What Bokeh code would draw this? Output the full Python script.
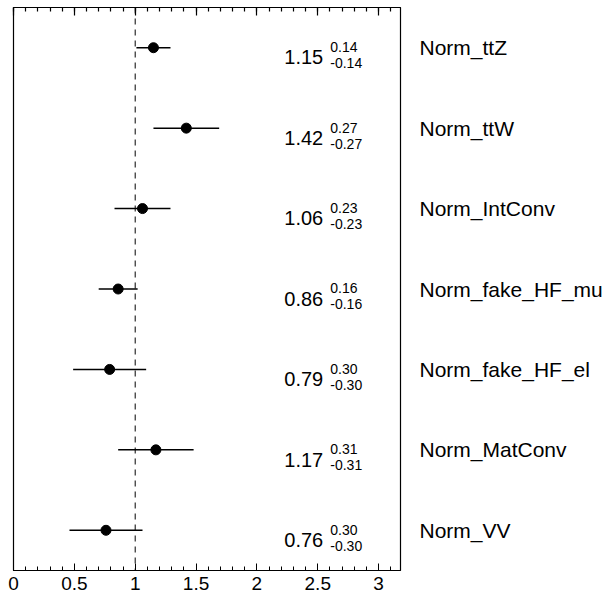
from bokeh.plotting import figure
from bokeh.models import (ColumnDataSource, Span, LinearAxis, SingleIntervalTicker,
                          FixedTicker, NumeralTickFormatter, Range1d)
from bokeh.core.properties import value
from bokeh.embed import file_html
from bokeh.resources import INLINE

# ---- data ----
names = ["Norm_ttZ", "Norm_ttW", "Norm_IntConv", "Norm_fake_HF_mu",
         "Norm_fake_HF_el", "Norm_MatConv", "Norm_VV"]
centers = [1.15, 1.42, 1.06, 0.86, 0.79, 1.17, 0.76]
err_up = [0.14, 0.27, 0.23, 0.16, 0.30, 0.31, 0.30]
err_down = [0.14, 0.27, 0.23, 0.16, 0.30, 0.31, 0.30]
x_ticks_major = [0, 0.5, 1, 1.5, 2, 2.5, 3]
ref_value = 1.0

FONT = value("Liberation Sans")
n = len(names)
ys = [n - i - 0.5 for i in range(n)]

src = ColumnDataSource(dict(
    y=ys,
    c=centers,
    lo=[c - d for c, d in zip(centers, err_down)],
    hi=[c + u for c, u in zip(centers, err_up)],
    vtxt=["%.2f" % c for c in centers],
    utxt=["%.2f" % u for u in err_up],
    dtxt=["-%.2f" % d for d in err_down],
    xv=[2.225] * n,
    xs=[2.603] * n,
))

p = figure(width=605, height=592, output_backend="svg", toolbar_location=None,
           x_range=Range1d(0, 3.18), y_range=Range1d(0, n),
           x_axis_location="below", y_axis_location="right",
           min_border_left=13, min_border_right=204, min_border_top=7,
           min_border_bottom=21)
p.background_fill_color = "white"
p.border_fill_color = "white"
p.outline_line_color = "black"
p.outline_line_width = 1.2
p.xgrid.visible = False
p.ygrid.visible = False

# bottom axis
xa = p.xaxis[0]
xa.ticker = SingleIntervalTicker(interval=0.5, num_minor_ticks=5)
xa.formatter = NumeralTickFormatter(format="0.[0]")
xa.major_tick_in = 7
xa.major_tick_out = 0
xa.minor_tick_in = 4
xa.minor_tick_out = 0
xa.major_label_standoff = 6
xa.major_label_text_font = "Liberation Sans"
xa.major_label_text_font_size = "19px"
xa.major_label_text_color = "black"
xa.axis_line_color = "black"
xa.major_tick_line_color = "black"
xa.minor_tick_line_color = "black"

# top axis (ticks only)
ta = LinearAxis(ticker=SingleIntervalTicker(interval=0.5, num_minor_ticks=5),
                formatter=NumeralTickFormatter(format="0.[0]"))
ta.major_tick_in = 8
ta.major_tick_out = 0
ta.minor_tick_in = 4
ta.minor_tick_out = 0
ta.major_label_text_color = None
ta.major_label_text_font_size = "1px"
ta.major_label_standoff = 0
ta.axis_line_color = "black"
ta.major_tick_line_color = "black"
ta.minor_tick_line_color = "black"
ta.major_tick_line_width = 1.2
ta.minor_tick_line_width = 1.2
p.add_layout(ta, "above")

# right axis carrying the parameter names
ya = p.yaxis[0]
ya.ticker = FixedTicker(ticks=ys)
ya.major_label_overrides = {y: nm for y, nm in zip(ys, names)}
ya.major_tick_in = 0
ya.major_tick_out = 0
ya.minor_tick_in = 0
ya.minor_tick_out = 0
ya.axis_line_color = None
ya.major_label_standoff = 19
ya.major_label_text_font = "Liberation Sans"
ya.major_label_text_font_size = "21px"
ya.major_label_text_color = "black"

# reference dashed line
p.add_layout(Span(location=ref_value, dimension="height", line_color="black",
                  line_width=1, line_dash="6 5"))

# error bars and points
p.segment(x0="lo", x1="hi", y0="y", y1="y", source=src, line_color="black",
          line_width=1.5)
p.scatter(x="c", y="y", source=src, size=10, fill_color="black",
          line_color="black")

# value texts
p.text(x="xv", y="y", text="vtxt", source=src, text_font=FONT,
       text_font_size="20px", text_color="black", text_baseline="alphabetic",
       text_align="left", y_offset=9.7)
p.text(x="xs", y="y", text="utxt", source=src, text_font=FONT,
       text_font_size="14px", text_color="black", text_baseline="alphabetic",
       text_align="left", y_offset=-0.6)
p.text(x="xs", y="y", text="dtxt", source=src, text_font=FONT,
       text_font_size="14px", text_color="black", text_baseline="alphabetic",
       text_align="left", y_offset=15.4)

open("out.html", "w").write(file_html(p, INLINE))
